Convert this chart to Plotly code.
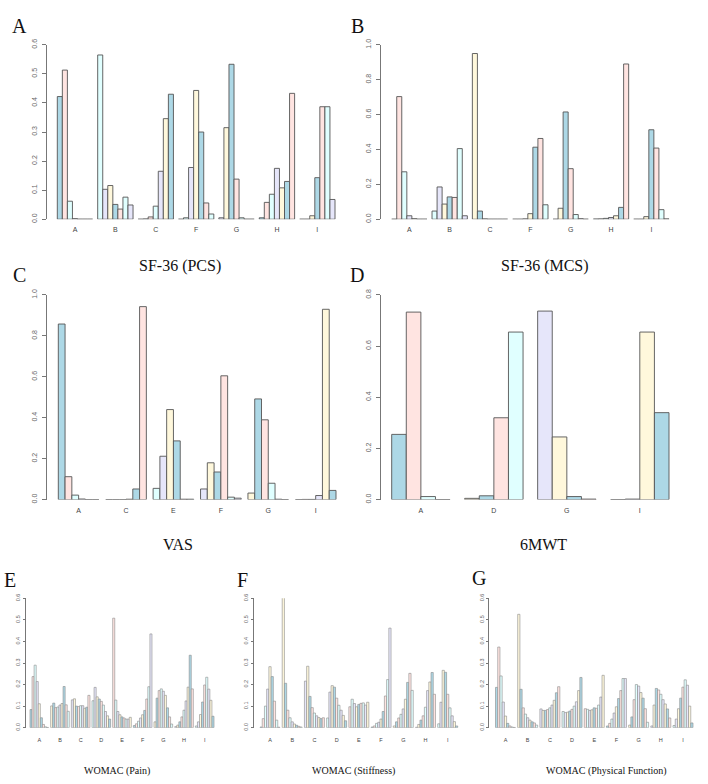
import plotly.graph_objects as go

# ---------------- data ----------------
palette = ["#ADD8E6", "#FFE4E1", "#E0FFFF", "#E6E6FA", "#FFF8DC"]

pcs_groups = ["A", "B", "C", "F", "G", "H", "I"]
pcs_values = [
    [0.422, 0.513, 0.062, 0.002, 0.0, 0.0, 0.0],
    [0.565, 0.103, 0.116, 0.051, 0.035, 0.076, 0.049],
    [0.0, 0.001, 0.008, 0.045, 0.165, 0.346, 0.430],
    [0.0, 0.005, 0.178, 0.443, 0.300, 0.056, 0.018],
    [0.005, 0.315, 0.533, 0.138, 0.005, 0.0, 0.0],
    [0.005, 0.058, 0.086, 0.175, 0.108, 0.130, 0.433],
    [0.0, 0.0, 0.012, 0.143, 0.387, 0.387, 0.068],
]

mcs_groups = ["A", "B", "C", "F", "G", "H", "I"]
mcs_values = [
    [0.0, 0.703, 0.272, 0.02, 0.003, 0.0, 0.0],
    [0.047, 0.185, 0.087, 0.128, 0.125, 0.405, 0.02],
    [0.95, 0.047, 0.002, 0.0, 0.0, 0.0, 0.0],
    [0.0, 0.0, 0.002, 0.032, 0.413, 0.463, 0.083],
    [0.0, 0.063, 0.615, 0.29, 0.027, 0.003, 0.0],
    [0.001, 0.002, 0.005, 0.01, 0.02, 0.068, 0.89],
    [0.0, 0.0, 0.015, 0.513, 0.408, 0.055, 0.002],
]

vas_groups = ["A", "C", "E", "F", "G", "I"]
vas_values = [
    [0.858, 0.112, 0.022, 0.003, 0.0, 0.0],
    [0.0, 0.0, 0.0, 0.002, 0.052, 0.943],
    [0.055, 0.212, 0.44, 0.287, 0.002, 0.002],
    [0.052, 0.18, 0.135, 0.605, 0.012, 0.007],
    [0.032, 0.492, 0.39, 0.08, 0.002, 0.0],
    [0.0, 0.001, 0.001, 0.02, 0.93, 0.045],
]

mwt_groups = ["A", "D", "G", "I"]
mwt_values = [
    [0.255, 0.733, 0.012, 0.0],
    [0.005, 0.015, 0.32, 0.655],
    [0.737, 0.245, 0.012, 0.002],
    [0.0, 0.002, 0.655, 0.34],
]

womac_groups = ["A", "B", "C", "D", "E", "F", "G", "H", "I"]
pain_values = [
    [0.084, 0.237, 0.29, 0.214, 0.111, 0.046, 0.015, 0.004, 0.001],
    [0.101, 0.114, 0.093, 0.096, 0.105, 0.112, 0.191, 0.106, 0.076],
    [0.129, 0.134, 0.1, 0.098, 0.102, 0.102, 0.09, 0.095, 0.15],
    [0.125, 0.187, 0.143, 0.133, 0.122, 0.105, 0.075, 0.055, 0.04],
    [0.508, 0.128, 0.075, 0.06, 0.05, 0.045, 0.04, 0.04, 0.048],
    [0.01, 0.018, 0.03, 0.045, 0.06, 0.08, 0.133, 0.19, 0.435],
    [0.027, 0.137, 0.172, 0.18, 0.169, 0.15, 0.092, 0.05, 0.017],
    [0.005, 0.012, 0.027, 0.05, 0.081, 0.124, 0.188, 0.336, 0.18],
    [0.008, 0.027, 0.061, 0.119, 0.198, 0.234, 0.179, 0.127, 0.053],
]
stiff_values = [
    [0.003, 0.042, 0.1, 0.179, 0.283, 0.237, 0.123, 0.035, 0.002],
    [0.605, 0.206, 0.081, 0.046, 0.027, 0.017, 0.011, 0.006, 0.003],
    [0.216, 0.285, 0.145, 0.093, 0.068, 0.055, 0.047, 0.042, 0.046],
    [0.045, 0.165, 0.195, 0.188, 0.137, 0.104, 0.081, 0.057, 0.032],
    [0.097, 0.132, 0.112, 0.097, 0.108, 0.113, 0.115, 0.105, 0.118],
    [0.003, 0.008, 0.02, 0.025, 0.04, 0.075, 0.147, 0.223, 0.462],
    [0.008, 0.027, 0.045, 0.062, 0.087, 0.132, 0.21, 0.252, 0.173],
    [0.002, 0.015, 0.035, 0.055, 0.095, 0.172, 0.212, 0.256, 0.155],
    [0.018, 0.118, 0.266, 0.257, 0.155, 0.092, 0.055, 0.028, 0.008],
]
pf_values = [
    [0.187, 0.374, 0.24, 0.119, 0.054, 0.02, 0.008, 0.003, 0.001],
    [0.526, 0.178, 0.092, 0.063, 0.046, 0.035, 0.027, 0.022, 0.012],
    [0.087, 0.08, 0.08, 0.084, 0.092, 0.105, 0.127, 0.162, 0.19],
    [0.075, 0.07, 0.072, 0.077, 0.085, 0.1, 0.12, 0.172, 0.233],
    [0.088, 0.085, 0.08, 0.083, 0.092, 0.09, 0.105, 0.142, 0.243],
    [0.008, 0.02, 0.04, 0.068, 0.097, 0.135, 0.172, 0.228, 0.228],
    [0.012, 0.05, 0.13, 0.2, 0.193, 0.163, 0.137, 0.088, 0.025],
    [0.008, 0.105, 0.182, 0.175, 0.155, 0.13, 0.11, 0.087, 0.045],
    [0.01, 0.04, 0.088, 0.137, 0.188, 0.222, 0.197, 0.1, 0.022],
]

# ---------------- layout spec (pixels) ----------------
W, H = 708, 784
panels = [
    # letter, title, groups, values, ymax, dtick, axis_px, bar_start, bar_end, y0_px, ytop_px, small, letter pos, title pos
    ("A", "SF-36 (PCS)", pcs_groups, pcs_values, 0.6, 0.1, 47, 57.3, 335, 216, 39.3, False, (19, 20), (180, 263)),
    ("B", "SF-36 (MCS)", mcs_groups, mcs_values, 1.0, 0.2, 381, 391.7, 669, 216, 39.3, False, (357, 20), (545, 263)),
    ("C", "VAS", vas_groups, vas_values, 1.0, 0.2, 47, 58.3, 336, 500, 292.7, False, (19, 272), (178, 545)),
    ("D", "6MWT", mwt_groups, mwt_values, 0.8, 0.2, 381, 391.7, 669, 500, 292.7, False, (357, 272), (543, 545)),
    ("E", "WOMAC (Pain)", womac_groups, pain_values, 0.6, 0.1, 25.5, 30, 214, 731, 600, True, (10, 581), (117, 775)),
    ("F", "WOMAC (Stiffness)", womac_groups, stiff_values, 0.6, 0.1, 253.5, 260, 457.7, 731, 600, True, (243, 581), (353, 775)),
    ("G", "WOMAC (Physical Function)", womac_groups, pf_values, 0.6, 0.1, 489, 495.5, 693, 731, 600, True, (479, 579), (606, 775)),
]

fig = go.Figure()
annotations = []
layout_axes = {}

for k, (letter, title, groups, values, ymax, dtick, axis_px, bs, be, y0, yt, small, lpos, tpos) in enumerate(panels):
    G = len(groups)
    n = len(values[0])
    u = 1.0 / (n + 1)
    h = n * u / 2
    xa = "x" if k == 0 else f"x{k+1}"
    ya = "y" if k == 0 else f"y{k+1}"
    for j in range(n):
        fig.add_trace(go.Bar(
            x=list(range(G)),
            y=[values[g][j] for g in range(G)],
            width=u,
            offset=-h + j * u,
            marker=dict(color=[palette[(g * n + j) % 5] for g in range(G)],
                        line=dict(color="#8a8a8a" if small else "#555555",
                                  width=0.6 if small else 0.9)),
            xaxis=xa, yaxis=ya, showlegend=False, hoverinfo="y",
        ))
    # pixel -> data mapping
    b = (be - bs) / (G - 1 + 2 * h)
    a = bs + b * h
    right_px = be + (bs - axis_px)
    xr = [(axis_px - a) / b, (right_px - a) / b]
    xkey = "xaxis" if k == 0 else f"xaxis{k+1}"
    ykey = "yaxis" if k == 0 else f"yaxis{k+1}"
    tf = 5.5 if small else 7
    layout_axes[xkey] = dict(
        domain=[axis_px / W, right_px / W], range=xr, anchor=ya,
        tickmode="array", tickvals=list(range(G)), ticktext=groups,
        showline=False, showgrid=False, zeroline=False, ticks="",
        tickfont=dict(family="Liberation Sans", size=tf, color="#444444"),
        ticklabelstandoff=(8 if small else 5),
    )
    layout_axes[ykey] = dict(
        domain=[1 - y0 / H, 1 - yt / H], range=[0, ymax], anchor=xa,
        tickmode="linear", tick0=0, dtick=dtick, tickformat=".1f",
        showline=True, linecolor="#777777", linewidth=0.8,
        ticks="outside", ticklen=(2 if small else 4), tickcolor="#777777", tickwidth=0.8,
        showgrid=False, zeroline=False, tickangle=-90,
        tickfont=dict(family="Liberation Sans", size=tf, color="#666666"),
        ticklabelstandoff=(0 if small else 2),
    )
    annotations.append(dict(
        text=letter, x=lpos[0] / W, y=1 - lpos[1] / H, xref="paper", yref="paper",
        xanchor="center", yanchor="middle", showarrow=False,
        font=dict(family="Liberation Serif", size=20, color="#111111"),
    ))
    annotations.append(dict(
        text=title, x=tpos[0] / W, y=1 - tpos[1] / H, xref="paper", yref="paper",
        xanchor="center", yanchor="middle", showarrow=False,
        font=dict(family="Liberation Serif", size=(10 if small else 16), color="#111111"),
    ))

fig.update_layout(
    width=W, height=H, margin=dict(l=0, r=0, t=0, b=0),
    paper_bgcolor="white", plot_bgcolor="white",
    barmode="overlay", annotations=annotations, **layout_axes,
)

fig.write_html("out.html")
